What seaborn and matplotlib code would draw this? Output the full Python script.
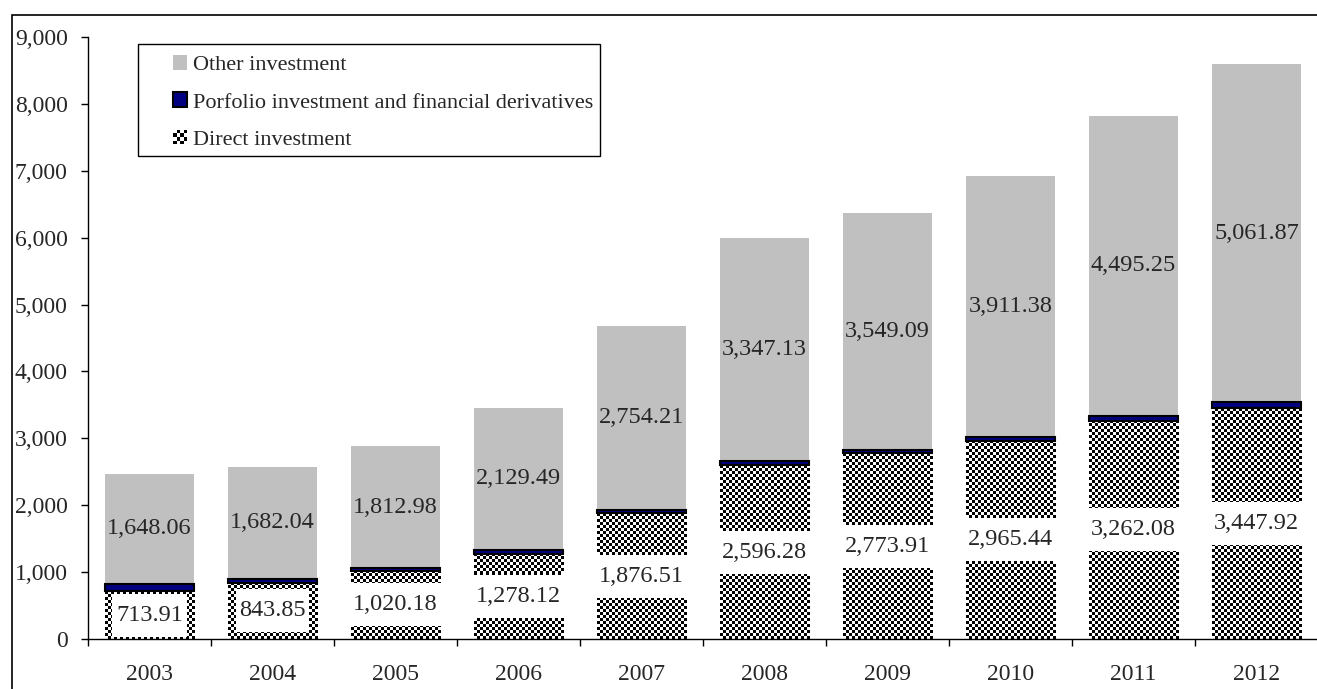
import numpy as np
import pandas as pd
import matplotlib
matplotlib.use("Agg")
import matplotlib.pyplot as plt
import seaborn as sns
from matplotlib.patches import Rectangle
from matplotlib.colors import ListedColormap
from matplotlib.legend_handler import HandlerBase
from matplotlib.ticker import FuncFormatter

# ---------------- data ----------------
years = ["2003", "2004", "2005", "2006", "2007", "2008", "2009", "2010", "2011", "2012"]
direct = [713.91, 843.85, 1020.18, 1278.12, 1876.51, 2596.28, 2773.91, 2965.44, 3262.08, 3447.92]
portfolio = [110, 52, 45, 52, 55, 58, 52, 51, 68, 90]
other = [1648.06, 1682.04, 1812.98, 2129.49, 2754.21, 3347.13, 3549.09, 3911.38, 4495.25, 5061.87]
series_names = ["Other investment",
                "Porfolio investment and financial derivatives",
                "Direct investment"]
y_ticks = [0, 1000, 2000, 3000, 4000, 5000, 6000, 7000, 8000, 9000]

# ---------------- style ----------------
sns.set_style("white")
plt.rcParams["font.family"] = ["Liberation Serif", "DejaVu Serif"]
plt.rcParams["font.size"] = 16
TICK_FS = 17
LABEL_FS = 17.5
LEGEND_FS = 16

W_PX, H_PX = 1317, 689
fig = plt.figure(figsize=(W_PX / 100, H_PX / 100), dpi=100)
ax_left, ax_bottom, ax_top = 88, 639, 37
ax = fig.add_axes([ax_left / W_PX, 1 - ax_bottom / H_PX,
                   (W_PX - ax_left + 1) / W_PX, (ax_bottom - ax_top) / H_PX])

df = pd.DataFrame({"year": years, "direct": direct,
                   "portfolio": portfolio, "other": other})
bottom_p = df["direct"].to_numpy()
bottom_o = (df["direct"] + df["portfolio"]).to_numpy()
BAR_W = 0.73

GRAY = "#c0c0c0"
NAVY = "#000080"

sns.barplot(data=df, x="year", y="direct", color="white", width=BAR_W,
            saturation=1, errorbar=None, linewidth=0, ax=ax, zorder=1)
direct_patches = list(ax.patches)
sns.barplot(data=df, x="year", y="other", bottom=bottom_o, color=GRAY,
            width=BAR_W, saturation=1, errorbar=None, linewidth=0, ax=ax, zorder=1)
other_patches = list(ax.patches)[len(direct_patches):]
sns.barplot(data=df, x="year", y="portfolio", bottom=bottom_p, color=NAVY,
            width=BAR_W, saturation=1, errorbar=None, edgecolor="black",
            linewidth=1.5, ax=ax, zorder=3)

ax.set_xlim(-0.5, len(years) - 0.5)
ax.set_ylim(0, 9000)

# checkerboard fill for direct investment
ax_w_px = (W_PX - ax_left + 1)
ax_h_px = (ax_bottom - ax_top)
px_per_x = ax_w_px / len(years)
px_per_y = ax_h_px / 9000
CELL = 3.0
cmap_chk = ListedColormap(["white", "black"])
for p in direct_patches:
    x0, y0, w, h = p.get_x(), p.get_y(), p.get_width(), p.get_height()
    nx = max(1, int(round(w * px_per_x / CELL)))
    ny = max(1, int(round(h * px_per_y / CELL)))
    arr = np.indices((ny, nx)).sum(axis=0) % 2
    ax.imshow(arr, cmap=cmap_chk, extent=(x0, x0 + w, y0, y0 + h), origin="lower",
              aspect="auto", interpolation="nearest", zorder=1.5)
ax.set_xlim(-0.5, len(years) - 0.5)
ax.set_ylim(0, 9000)

# labels
for p, v in zip(direct_patches, direct):
    ax.text(p.get_x() + p.get_width() / 2, p.get_y() + p.get_height() / 2,
            f"{v:,.2f}", ha="center", va="center", fontsize=LABEL_FS, zorder=5,
            bbox=dict(boxstyle="square,pad=0.15", facecolor="white",
                      edgecolor="none", mutation_aspect=3.0))
for p, v in zip(other_patches, other):
    ax.text(p.get_x() + p.get_width() / 2, p.get_y() + p.get_height() / 2,
            f"{v:,.2f}", ha="center", va="center", fontsize=LABEL_FS, zorder=5)

# axes styling
sns.despine(ax=ax, top=True, right=True)
for s in ("left", "bottom"):
    ax.spines[s].set_color("black")
    ax.spines[s].set_linewidth(1)
ax.set_yticks(y_ticks)
ax.yaxis.set_major_formatter(FuncFormatter(lambda v, _: f"{v:,.0f}"))
ax.tick_params(axis="y", direction="out", length=5, width=1, color="black",
               pad=9.5, labelsize=TICK_FS, left=True)
ax.set_xticks(range(len(years)))
ax.set_xticklabels(years)
ax.set_xticks(np.arange(-0.5, len(years), 1.0), minor=True)
ax.tick_params(axis="x", which="major", length=0, pad=18, labelsize=TICK_FS)
ax.tick_params(axis="x", which="minor", direction="out", length=5, width=1,
               color="black", bottom=True)
ax.set_xlabel("")
ax.set_ylabel("")


# legend
class CheckerHandler(HandlerBase):
    def create_artists(self, legend, orig_handle, xdescent, ydescent,
                       width, height, fontsize, trans):
        n = 4
        cw, ch = width / n, height / n
        arts = []
        for i in range(n):
            for j in range(n):
                c = "black" if (i + j) % 2 == 0 else "white"
                arts.append(Rectangle((-xdescent + i * cw, -ydescent + j * ch), cw, ch,
                                      facecolor=c, edgecolor="none", transform=trans))
        return arts


h_other = Rectangle((0, 0), 1, 1, facecolor=GRAY, edgecolor="none")
h_port = Rectangle((0, 0), 1, 1, facecolor=NAVY, edgecolor="black", linewidth=1.5)
h_direct = Rectangle((0, 0), 1, 1)

leg_box = Rectangle((138 / W_PX, 1 - 156 / H_PX), (600 - 138) / W_PX, (156 - 44) / H_PX,
                    transform=fig.transFigure, facecolor="white", edgecolor="black",
                    linewidth=1, zorder=4)
fig.patches.append(leg_box)

leg = fig.legend([h_other, h_port, h_direct], series_names,
                 handler_map={h_direct: CheckerHandler()},
                 loc="upper left", bbox_to_anchor=(173 / W_PX, 1 - 55 / H_PX),
                 frameon=False, borderpad=0, borderaxespad=0,
                 handlelength=0.63, handleheight=0.63, handletextpad=0.27,
                 labelspacing=0.78, fontsize=LEGEND_FS)
leg.set_zorder(6)

# outer frame
frame = Rectangle((12 / W_PX, -0.05), 1.1, 1 - 15 / H_PX + 0.05,
                  transform=fig.transFigure, facecolor="none", edgecolor="black",
                  linewidth=1.2, zorder=10, clip_on=False)
fig.patches.append(frame)

fig.savefig("out.png", dpi=100)
